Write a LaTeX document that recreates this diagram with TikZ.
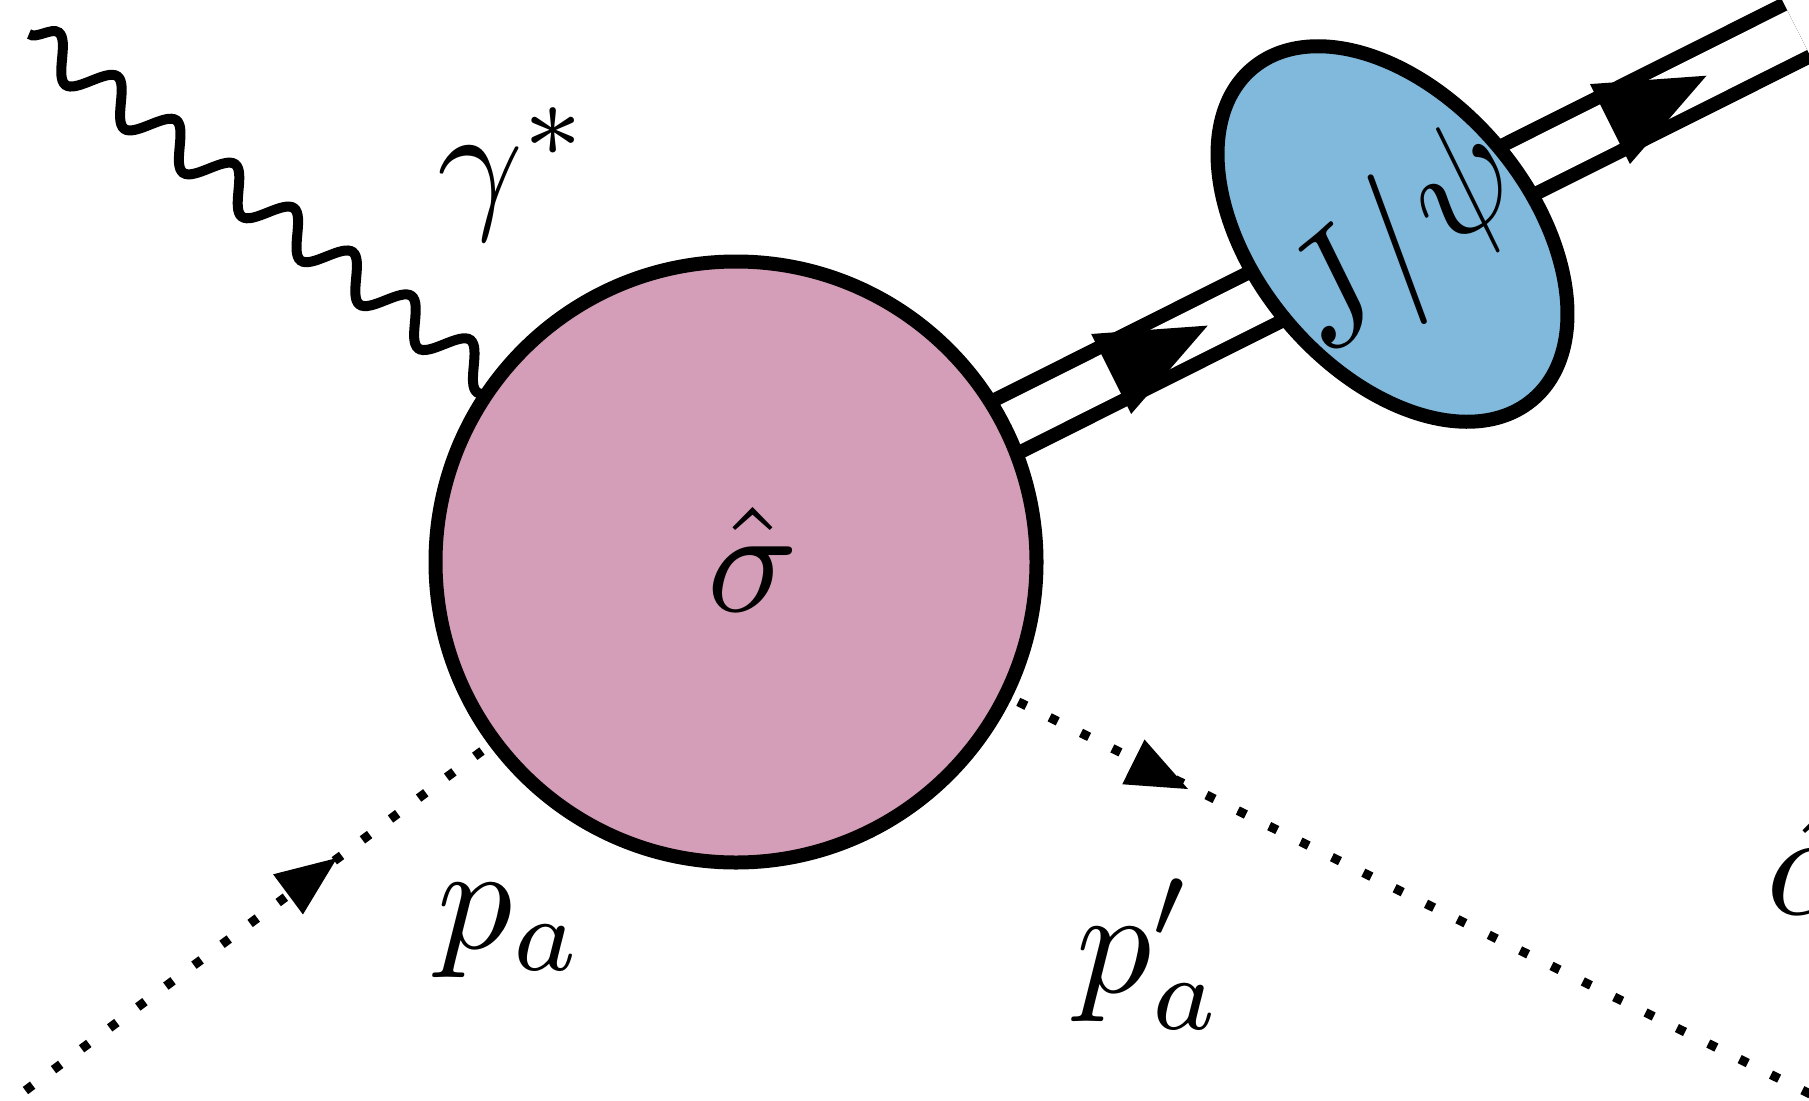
\documentclass[tikz,border=0pt]{standalone}
\usetikzlibrary{decorations.pathmorphing,shapes.geometric,backgrounds}
\definecolor{sigpink}{RGB}{212,157,184}
\definecolor{psiblue}{RGB}{128,185,220}
\tikzset{
  thickline/.style={line width=14pt},
  photon/.style={line width=10pt, decorate, decoration={snake, amplitude=19pt, segment length=73.4pt}},
  scalar/.style={line width=9pt, dash pattern=on 9pt off 26pt},
  dbl/.style={line width=14pt, double=white, double distance=44pt},
  lbl/.style={inner sep=0pt, scale=15},
  dottip/.pic={\fill (0,0) -- (-61,25) -- (-61,-25) -- cycle;},
  dbltip/.pic={\fill (0,0) -- (-108,44.7) -- (-108,-44.7) -- cycle;},
}
\begin{document}
\begin{tikzpicture}[x=1pt,y=-1pt]
\useasboundingbox (0,0) rectangle (1809,1100);
\node[circle, draw, thickline, fill=sigpink, minimum size=601pt, inner sep=0pt] (sig) at (736,562) {};
\node[ellipse, draw, thickline, fill=psiblue, minimum width=434pt, minimum height=274pt, inner sep=0pt, rotate=-49.7] (psi) at (1392.5,234) {};
\coordinate (gam) at (29,34);
\coordinate (pin) at (-115,1195);
\coordinate (pout) at (1901,1139);
\coordinate (jend) at (1797.2,30.2);
\coordinate (t1) at (1207.7,325.6);
\coordinate (t2) at (1706.5,75.7);
\coordinate (tin) at (337,858);
\coordinate (tout) at (1188,789);
\begin{scope}[on background layer]
\draw[photon] (gam) -- (sig.center);
\draw[scalar] (pin) -- (sig.center);
\draw[scalar] (sig.center) -- (pout);
\pic[rotate=36.6] at (tin) {dottip};
\pic[rotate=-26.4] at (tout) {dottip};
\draw[dbl] (sig.center) -- (jend);
\pic[rotate=26.6] at (t1) {dbltip};
\pic[rotate=26.6] at (t2) {dbltip};
\end{scope}
\node[lbl, anchor=base west] (lg) at (434,211) {$\gamma^*$};
\node[lbl, anchor=base west] (ls) at (704,611) {$\hat\sigma$};
\node[lbl, anchor=base west] (lpa) at (434,948) {$p_a$};
\node[lbl, anchor=base west] (lpb) at (1073,992) {$p'_a$};
\node[lbl, rotate=40.3] (lj) at (1403.5,245) {$J/\psi$};
\node[lbl, anchor=base west] (lx) at (1763,914) {$\skew{2}{\hat}{\alpha}$};
\end{tikzpicture}
\end{document}
